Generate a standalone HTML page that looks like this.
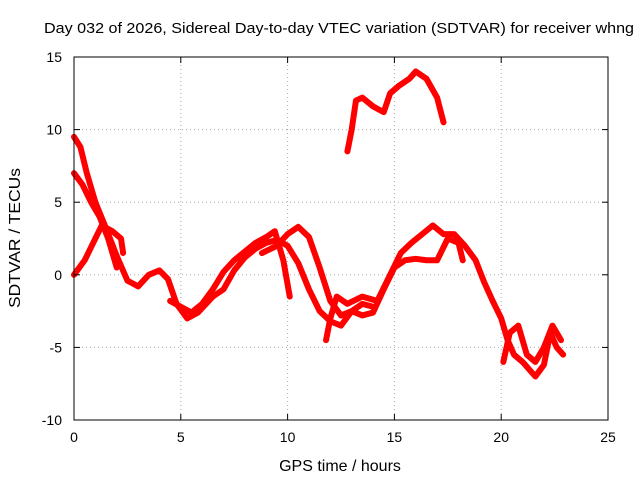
<!DOCTYPE html>
<html><head><meta charset="utf-8"><style>
body{margin:0;background:#fff}
svg{display:block;font-family:"Liberation Sans",sans-serif}
</style></head><body>
<svg id="chart" width="640" height="480">
<text x="339" y="33" font-size="15" text-anchor="middle" textLength="590" lengthAdjust="spacingAndGlyphs">Day 032 of 2026, Sidereal Day-to-day VTEC variation (SDTVAR) for receiver whng</text>
<text x="340" y="471" font-size="16" text-anchor="middle">GPS time / hours</text>
<text x="20" y="238" font-size="16" text-anchor="middle" textLength="140" lengthAdjust="spacingAndGlyphs" transform="rotate(-90 20 238)">SDTVAR / TECUs</text>
<g id="grid"></g>
<g id="series"></g>
<rect x="74" y="57" width="534" height="363" fill="none" stroke="#000"/>
<g id="ticks"></g>
</svg>
<script>
const xTicks=[0,5,10,15,20,25];
const yTicks=[-10,-5,0,5,10,15];
const traceA=[[0,9.5],[0.3,8.8],[0.6,7],[1,5],[1.5,3.2],[2,1.3],[2.5,-0.4],[3,-0.8],[3.5,0],[4,0.3],[4.4,-0.3],[4.8,-2],[5.3,-3],[5.8,-2.6],[6.5,-1.5],[7,-1],[7.5,0.3],[8,1.2],[8.5,1.8],[9,2.2],[9.5,2.4],[10,2],[10.5,0.8],[11,-1],[11.5,-2.5],[12,-3.2],[12.5,-3.5],[13,-2.5],[13.5,-2],[14,-2.2]];
const traceB=[[0,0],[0.5,1],[0.9,2.2],[1.3,3.4],[1.8,3],[2.2,2.5],[2.3,1.5]];
const traceC=[[0,7],[0.4,6.2],[0.8,5],[1.2,4],[1.6,2.5],[2,0.5]];
const traceD=[[4.5,-1.8],[5,-2.2],[5.5,-2.6],[6,-2],[6.5,-1],[7,0.2],[7.5,1],[8,1.6],[8.5,2.2],[9,2.6],[9.4,3],[9.8,1],[10.1,-1.5]];
const traceE=[[8.8,1.5],[9.5,2],[10,2.8],[10.5,3.3],[11,2.6],[11.5,0.5],[12,-1.8],[12.5,-2.8],[13,-2.5],[13.5,-2.8],[14,-2.6],[14.5,-1],[15,0.5],[15.5,1],[16,1.1],[16.5,1],[17,1],[17.5,2.5],[18,2.2],[18.2,1]];
const traceF=[[11.8,-4.5],[12,-3],[12.3,-1.5],[12.8,-2],[13.5,-1.5],[14.2,-1.8],[14.8,0],[15.3,1.5],[15.8,2.2],[16.3,2.8],[16.8,3.4],[17.3,2.8],[17.8,2.8],[18.3,2],[18.8,1],[19.2,-0.5],[19.6,-1.8],[20,-3],[20.3,-4.5],[20.6,-5.5],[21,-6],[21.3,-6.5],[21.6,-7],[22,-6.2],[22.3,-4],[22.6,-5],[22.9,-5.5]];
const traceG=[[20.1,-6],[20.4,-4],[20.8,-3.5],[21.2,-5.5],[21.6,-6],[22,-5],[22.4,-3.5],[22.8,-4.5]];
const traceH=[[12.8,8.5],[13,10],[13.2,12],[13.5,12.2],[14,11.6],[14.5,11.2],[14.8,12.5],[15.2,13],[15.7,13.5],[16,14],[16.5,13.5],[17,12.2],[17.3,10.5]];
const traces=[traceA,traceB,traceC,traceD,traceE,traceF,traceG,traceH];
const X=v=>74+v*534/25, Y=v=>420-(v+10)*363/25;
const ns="http://www.w3.org/2000/svg";
const g=document.getElementById('grid'),t=document.getElementById('ticks'),s=document.getElementById('series');
function mk(p,tag,a){const e=document.createElementNS(ns,tag);for(const k in a)e.setAttribute(k,a[k]);p.appendChild(e);return e;}
xTicks.forEach(v=>{const x=X(v);
 if(v>0&&v<25){const l=mk(g,'line',{x1:x,x2:x,y1:57,y2:420,stroke:'#aaa','stroke-dasharray':'1,3'});}
 const a=mk(t,'line',{x1:x,x2:x,y1:420,y2:414,stroke:'#000'});
 const b=mk(t,'line',{x1:x,x2:x,y1:57,y2:63,stroke:'#000'});
 const tx=mk(t,'text',{x:x,y:442,'font-size':14,'text-anchor':'middle'});tx.textContent=v;});
yTicks.forEach(v=>{const y=Y(v);
 if(v>-10&&v<15){const l=mk(g,'line',{x1:74,x2:608,y1:y,y2:y,stroke:'#aaa','stroke-dasharray':'1,3'});}
 const a=mk(t,'line',{x1:74,x2:80,y1:y,y2:y,stroke:'#000'});
 const b=mk(t,'line',{x1:602,x2:608,y1:y,y2:y,stroke:'#000'});
 const tx=mk(t,'text',{x:62,y:y+5,'font-size':14,'text-anchor':'end'});tx.textContent=v;});
traces.forEach(tr=>{const p=mk(s,'polyline',{points:tr.map(d=>X(d[0])+','+Y(d[1])).join(' '),fill:'none',stroke:'#f00','stroke-width':6,'stroke-linejoin':'round','stroke-linecap':'round'});
 
 });
</script>
</body></html>
